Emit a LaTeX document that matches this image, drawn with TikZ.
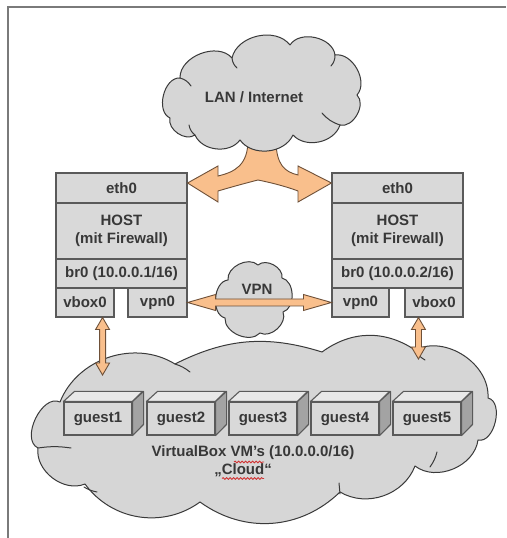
\documentclass[tikz,border=0pt]{standalone}
\usepackage{fontspec}
\setmainfont{Liberation Sans}
\usetikzlibrary{calc,decorations.pathmorphing}
\definecolor{boxfill}{HTML}{D9D9D9}
\definecolor{boxline}{HTML}{5A5A5A}
\definecolor{cloudfill}{HTML}{D6D6D6}
\definecolor{cloudline}{HTML}{3A3A3A}
\definecolor{orangefill}{HTML}{F9BF8C}
\definecolor{orangeline}{HTML}{6E5038}
\definecolor{txt}{HTML}{383838}
\definecolor{frameline}{HTML}{7A7A7A}
\definecolor{gtopfill}{HTML}{E8E8E8}
\definecolor{gsidefill}{HTML}{A3A3A3}
\definecolor{spellred}{HTML}{D03030}

\newcommand{\hdarrow}[5]{%
  \draw[oarrow] let \p1=(#1), \p2=(#2) in
   (\x1,\y1) -- (\x1+#3,\y1+#4) -- (\x1+#3,\y1+#5) -- (\x2-#3,\y1+#5) -- (\x2-#3,\y1+#4) -- (\x2,\y1)
   -- (\x2-#3,\y1-#4) -- (\x2-#3,\y1-#5) -- (\x1+#3,\y1-#5) -- (\x1+#3,\y1-#4) -- cycle;}
\newcommand{\vdarrow}[5]{%
  \draw[oarrow] let \p1=(#1), \p2=(#2) in
   (\x1,\y1) -- (\x1+#4,\y1-#3) -- (\x1+#5,\y1-#3) -- (\x1+#5,\y2+#3) -- (\x1+#4,\y2+#3) -- (\x1,\y2)
   -- (\x1-#4,\y2+#3) -- (\x1-#5,\y2+#3) -- (\x1-#5,\y1-#3) -- (\x1-#4,\y1-#3) -- cycle;}

\tikzset{
  hbox/.style={draw=boxline, fill=boxfill, line width=1.1, inner sep=0pt, align=center},
  gbox/.style={draw=boxline, fill=boxfill, line width=1.1, inner sep=0pt, minimum width=68, minimum height=33},
  gtop/.style={draw=boxline, fill=gtopfill, line width=1.1, line join=round},
  gside/.style={draw=boxline, fill=gsidefill, line width=1.1, line join=round},
  cloudst/.style={draw=cloudline, fill=cloudfill, line width=1, line join=round},
  cloudin/.style={draw=cloudline, line width=1, line cap=round},
  oarrow/.style={draw=orangeline, fill=orangefill, line width=0.9, line join=miter},
  wavy/.style={draw=spellred, line width=0.8, decorate, decoration={snake, amplitude=0.9pt, segment length=3.5pt}},
  lbl/.style={inner sep=0pt}
}

\begin{document}
\begin{tikzpicture}[x=1pt, y=1pt, font=\fontsize{15}{18}\selectfont\bfseries, text=txt]
\useasboundingbox (0,0) rectangle (506,538);
\fill[white] (0,0) rectangle (506,538);

% frame
\draw[frameline, line width=1.5] (8,0) -- (8,531) -- (506,531);

% left host
\node[hbox, minimum width=131, minimum height=30] (eth0L) at (121.5,350) {eth0};
\node[hbox, minimum width=131, minimum height=56] (hostL) at (121.5,307) {HOST\\(mit Firewall)};
\node[hbox, minimum width=131, minimum height=29] (br0L) at (121.5,264.5) {br0 (10.0.0.1/16)};
\node[hbox, minimum width=58, minimum height=29] (vboxL) at (85,235.5) {vbox0};
\node[hbox, minimum width=59, minimum height=29] (vpnL) at (157.5,235.5) {vpn0};

% right host
\node[hbox, minimum width=131, minimum height=30] (eth0R) at (397.5,350) {eth0};
\node[hbox, minimum width=131, minimum height=56] (hostR) at (397.5,307) {HOST\\(mit Firewall)};
\node[hbox, minimum width=131, minimum height=29] (br0R) at (397.5,264.5) {br0 (10.0.0.2/16)};
\node[hbox, minimum width=57, minimum height=29] (vpnR) at (360.5,235.5) {vpn0};
\node[hbox, minimum width=58, minimum height=29] (vboxR) at (434,235.5) {vbox0};

% LAN arrow (behind LAN cloud)
\draw[oarrow] (248,398) .. controls (248,373) and (235,366) .. (218,362) -- (218,372)
  -- ([yshift=5]eth0L.east) -- (218,336) -- (218,347)
  .. controls (235,352) and (250,356) .. (258,358)
  .. controls (268,356) and (285,352) .. (298,347) -- (298,336)
  -- ([yshift=5]eth0R.west) -- (298,372) -- (298,363)
  .. controls (285,366) and (276,373) .. (276,398) -- cycle;

% LAN cloud
\draw[cloudst] (170,420) to[bend left=80] (180,460) to[bend left=70] (232,480)
  to[bend left=65] (290,493) to[bend left=70] (335,483) to[bend left=70] (357,443)
  to[bend left=75] (340,413) to[bend left=60] (293,403) to[bend left=60] (240,398)
  to[bend left=60] (195,403) to[bend left=70] (170,420) -- cycle;
\draw[cloudin] (180,460) to[bend left=20] (191,452);
\draw[cloudin] (232,480) to[bend right=20] (237,470);
\draw[cloudin] (335,483) to[bend left=20] (331,472);
\draw[cloudin] (340,413) to[bend left=15] (322,425);
\draw[cloudin] (195,403) to[bend left=20] (189,413);
\node[lbl] (lan) at (254,441) {LAN / Internet};

% big VM cloud
\draw[cloudst] (60,136) to[bend left=50] (175,174) to[bend left=22] (322,186)
  to[bend left=35] (415,188) to[bend left=60] (488,140) to[bend left=90] (478,98)
  to[bend left=60] (415,72) to[bend left=50] (340,46) to[bend left=40] (200,36)
  to[bend left=45] (85,54) to[bend left=60] (38,90) to[bend left=90] (60,136) -- cycle;
\draw[cloudin] (38,90) to[bend left=8] (71,90);
\draw[cloudin] (84,51) to[bend right=10] (97,46);
\draw[cloudin] (339,55) -- (340,44);
\draw[cloudin] (437,86) to[bend left=10] (430,71);
\draw[cloudin] (175,174) to[bend left=10] (190,166);
\draw[cloudin] (415,188) to[bend right=15] (425,178);

% guests
\foreach \i/\cx in {1/98,2/181,3/263,4/345,5/427} {
  \node[gbox] (g\i) at (\cx,119.5) {guest\i};
  \draw[gtop] (g\i.north west) -- ++(11,10) -- ++(68,0) -- (g\i.north east) -- cycle;
  \draw[gside] (g\i.north east) -- ++(11,10) -- ++(0,-33) -- (g\i.south east) -- cycle;
}

\node[lbl] (vm1) at (253,85) {VirtualBox VM's (10.0.0.0/16)};
\node[lbl] (vm2) at (243,68) {„Cloud“};
\draw[wavy] (234,76) -- (264,76);
\draw[wavy] (222,59.5) -- (264,59.5);

% vbox arrows
\coordinate (lowL) at (102,163);
\coordinate (lowR) at (419,179);
\vdarrow{[xshift=-12pt]vboxL.south east}{lowL}{12pt}{7pt}{3pt}
\vdarrow{[xshift=14pt]vboxR.south west}{lowR}{12pt}{7pt}{3pt}

% VPN cloud and arrow
\draw[cloudst] (225,220) to[bend left=80] (228,258) to[bend left=70] (258,273)
  to[bend left=70] (282,260) to[bend left=75] (283,226) to[bend left=70] (260,205)
  to[bend left=70] (225,220) -- cycle;
\node[lbl] (vpntxt) at (257,249) {VPN};
\hdarrow{vpnL.east}{vpnR.west}{28pt}{8pt}{3.5pt}
\end{tikzpicture}
\end{document}
